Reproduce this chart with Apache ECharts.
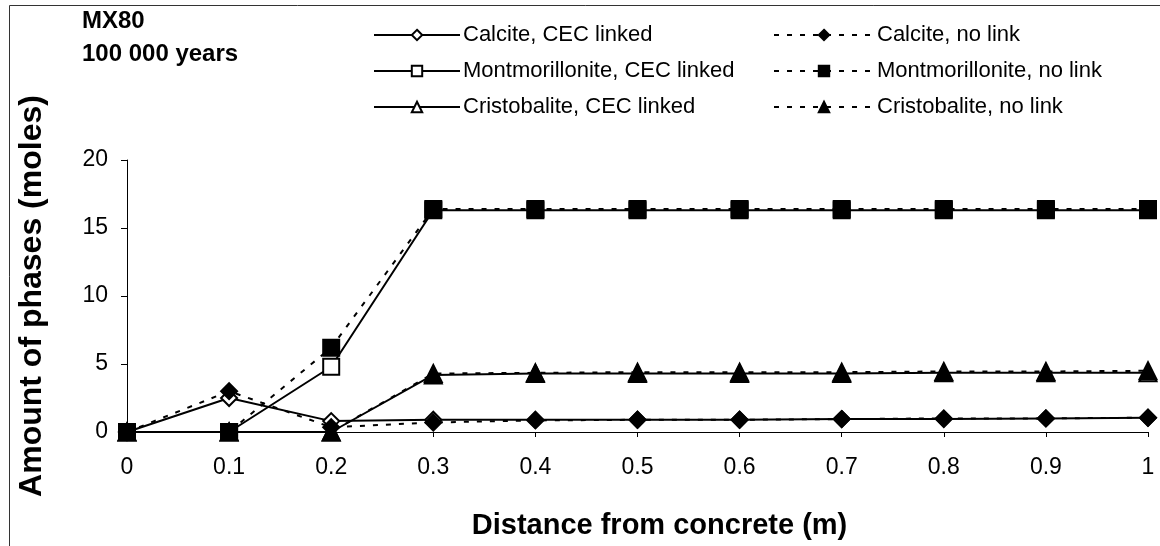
<!DOCTYPE html>
<html>
<head>
<meta charset="utf-8">
<script src="https://cdn.jsdelivr.net/npm/echarts@6/dist/echarts.min.js"></script>
<style>
  html, body { margin: 0; padding: 0; background: #fff; }
  #chart { width: 1160px; height: 546px; }
</style>
</head>
<body>
<div id="chart"></div>
<script>
const distance = [0, 0.1, 0.2, 0.3, 0.4, 0.5, 0.6, 0.7, 0.8, 0.9, 1]
const calciteLinked = [0, 2.5, 0.8, 0.9, 0.9, 0.9, 0.9, 0.95, 0.95, 1.0, 1.05]
const calciteNoLink = [0, 3.0, 0.35, 0.7, 0.85, 0.9, 0.9, 0.95, 1.0, 1.0, 1.05]
const montLinked = [0, 0, 4.8, 16.3, 16.3, 16.3, 16.3, 16.3, 16.3, 16.3, 16.3]
const montNoLink = [0, 0, 6.2, 16.4, 16.4, 16.4, 16.4, 16.4, 16.4, 16.4, 16.4]
const cristLinked = [0, 0, 0, 4.2, 4.3, 4.3, 4.3, 4.3, 4.35, 4.35, 4.35]
const cristNoLink = [0, 0, 0, 4.3, 4.35, 4.4, 4.4, 4.4, 4.45, 4.45, 4.5]

const font = 'Liberation Sans'

function pairs(ys) {
    return distance.map((x, i) => [x, ys[i]])
}

function mk(name, ys, symbol, dashed) {
    return {
        name: name,
        type: 'line',
        data: pairs(ys),
        symbol: symbol,
        symbolSize: /riangle/.test(symbol) ? 17 : 16,
        showAllSymbol: true,
        itemStyle: { color: '#000', borderColor: '#000', borderWidth: 2 },
        lineStyle: { color: '#000', width: 2, type: dashed ? [5, 8] : 'solid' },
        z: dashed ? 3 : 2,
        animation: false
    }
}

const legendText = { fontFamily: font, fontSize: 22, color: '#000', padding: [0, 0, 0, -2] }

const chart = echarts.init(document.getElementById('chart'))
chart.setOption({
    backgroundColor: '#fff',
    graphic: [
        {
            type: 'rect',
            shape: { x: 9.5, y: 5.5, width: 1160, height: 545 },
            style: { fill: 'none', stroke: '#333', lineWidth: 1 },
            silent: true
        },
        {
            type: 'text', left: 82, top: 9,
            style: { text: 'MX80', fontFamily: font, fontSize: 24, fontWeight: 'bold', fill: '#000' }
        },
        {
            type: 'text', left: 82, top: 42,
            style: { text: '100 000 years', fontFamily: font, fontSize: 24, fontWeight: 'bold', fill: '#000' }
        }
    ],
    legend: [
        {
            orient: 'vertical', left: 368, top: 19, itemGap: 14,
            itemWidth: 86, itemHeight: 13,
            textStyle: legendText,
            data: ['Calcite, CEC linked', 'Montmorillonite, CEC linked', 'Cristobalite, CEC linked']
        },
        {
            orient: 'vertical', left: 768, top: 19, itemGap: 14,
            itemWidth: 100, itemHeight: 13,
            textStyle: legendText,
            data: ['Calcite, no link', 'Montmorillonite, no link', 'Cristobalite, no link']
        }
    ],
    grid: { left: 127, right: 12, top: 160, bottom: 114 },
    xAxis: {
        type: 'value',
        min: 0, max: 1, interval: 0.1,
        name: 'Distance from concrete (m)',
        nameLocation: 'middle', nameGap: 79,
        nameTextStyle: { fontFamily: font, fontSize: 29, fontWeight: 'bold', color: '#000', padding: [0, 0, 0, 44] },
        axisLine: { lineStyle: { color: '#000', width: 1 } },
        axisTick: { show: true, length: 5, lineStyle: { color: '#000' } },
        axisLabel: { fontFamily: font, fontSize: 23, color: '#000', margin: 24 },
        splitLine: { show: false }
    },
    yAxis: {
        type: 'value',
        min: 0, max: 20, interval: 5,
        name: 'Amount of phases (moles)',
        nameLocation: 'middle', nameGap: 79,
        nameTextStyle: { fontFamily: font, fontSize: 32, fontWeight: 'bold', color: '#000', padding: [0, 0, 0, 0] },
        axisLine: { show: true, lineStyle: { color: '#000', width: 1 } },
        axisTick: { show: true, length: 6, lineStyle: { color: '#000' } },
        axisLabel: { fontFamily: font, fontSize: 23, color: '#000', margin: 19 },
        splitLine: { show: false }
    },
    series: [
        mk('Calcite, CEC linked', calciteLinked, 'emptyDiamond', false),
        mk('Montmorillonite, CEC linked', montLinked, 'emptyRect', false),
        mk('Cristobalite, CEC linked', cristLinked, 'emptyTriangle', false),
        mk('Calcite, no link', calciteNoLink, 'diamond', true),
        mk('Montmorillonite, no link', montNoLink, 'rect', true),
        mk('Cristobalite, no link', cristNoLink, 'triangle', true)
    ]
})
</script>
</body>
</html>
